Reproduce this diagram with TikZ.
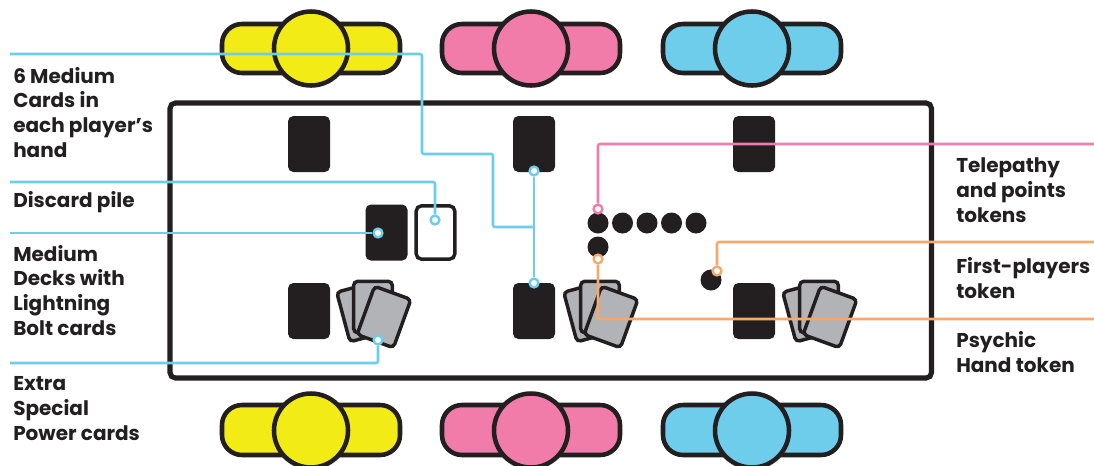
\documentclass[tikz,border=0pt]{standalone}
\usepackage{fontspec}
\setmainfont{Poppins}
\definecolor{ink}{RGB}{35,31,32}
\definecolor{pyellow}{RGB}{243,235,22}
\definecolor{ppink}{RGB}{241,124,170}
\definecolor{pblue}{RGB}{109,205,235}
\definecolor{porange}{RGB}{247,168,107}
\definecolor{cgrey}{RGB}{177,179,182}
\tikzset{
  pill/.style={draw=ink, line width=3.4pt, rounded corners=15pt},
  seat/.style={draw=ink, line width=3.4pt, circle, inner sep=0pt, minimum size=55.5pt},
  hidden/.style={fill=ink, rounded corners=4pt, inner sep=0pt, minimum width=31.5pt, minimum height=42pt},
  faceup/.style={draw=ink, fill=cgrey, line width=2.6pt, rounded corners=3pt, inner sep=0pt, minimum width=29pt, minimum height=38.5pt},
  token/.style={fill=ink, circle, inner sep=0pt, minimum size=15.75pt},
  marker/.style={draw=#1, fill=white, line width=1.8pt, circle, inner sep=0pt, minimum size=6.6pt},
  callout/.style={draw=#1, line width=1.9pt},
  label/.style={inner sep=0pt, align=left, font=\bfseries\fontsize{15}{18.5}\selectfont, text=ink}
}
\begin{document}
\begin{tikzpicture}[x=0.75pt,y=0.75pt,yscale=-1,xscale=1]
\useasboundingbox (0,0) rectangle (1094,465);

% Seats top
\draw [pill, fill=pyellow] (222,24) rectangle (400,73) ;
\node [seat, fill=pyellow] (seatA) at (311,48.5) {};
\draw [pill, fill=ppink] (442,24) rectangle (620,73) ;
\node [seat, fill=ppink] (seatB) at (531,48.5) {};
\draw [pill, fill=pblue] (663,24) rectangle (841,73) ;
\node [seat, fill=pblue] (seatC) at (752,48.5) {};
% Seats bottom
\draw [pill, fill=pyellow] (222,405) rectangle (400,455) ;
\node [seat, fill=pyellow] (seatD) at (311,430.5) {};
\draw [pill, fill=ppink] (442,405) rectangle (620,455) ;
\node [seat, fill=ppink] (seatE) at (531,430.5) {};
\draw [pill, fill=pblue] (663,405) rectangle (841,455) ;
\node [seat, fill=pblue] (seatF) at (752,430.5) {};

% Board
\draw [draw=ink, line width=3.8pt, rounded corners=4pt] (170,103) rectangle (931.5,378) ;

% Hands
\node [hidden] (handA) at (309,144) {};
\node [hidden] (handB) at (534,144) {};
\node [hidden] (handC) at (754,144) {};

% Decks and face-up cards
\node [hidden] (deckA) at (309,311) {};
\node [faceup, rotate=15] (fanA1) at (362,312) {};
\node [faceup] (fanA2) at (373,307) {};
\node [faceup, rotate=-20] (fanA3) at (384,317) {};
\node [hidden] (deckB) at (534,311) {};
\node [faceup, rotate=15] (fanB1) at (589,312) {};
\node [faceup] (fanB2) at (600,307) {};
\node [faceup, rotate=-20] (fanB3) at (611,317) {};
\node [hidden] (deckC) at (754,311) {};
\node [faceup, rotate=15] (fanC1) at (808,312) {};
\node [faceup] (fanC2) at (819,307) {};
\node [faceup, rotate=-20] (fanC3) at (830,317) {};

% Middle deck and discard pile
\node [hidden] (deckM) at (386.5,232.5) {};
\node [faceup, fill=white, rounded corners=4pt, minimum width=29pt, minimum height=40pt] (discard) at (435.5,232.5) {};

% Tokens
\node [token] (tok1) at (598,223) {};
\node [token] (tok2) at (622.5,223) {};
\node [token] (tok3) at (647,223) {};
\node [token] (tok4) at (671.5,223) {};
\node [token] (tok5) at (696,223) {};
\node [token] (psychic) at (598,247) {};
\node [token] (first) at (711,280) {};

% Markers
\node [marker=pblue] (mHandB) at (534,171) {};
\node [marker=pblue] (mDeckB) at (534,283) {};
\node [marker=pblue] (mDiscard) at (435,220) {};
\node [marker=pblue] (mDeckM) at (378,233) {};
\node [marker=pblue] (mFan) at (378,340) {};
\node [marker=ppink] (mTele) at (598,209) {};
\node [marker=porange] (mPsychic) at (598,259) {};
\node [marker=porange] (mFirst) at (717,271) {};

% Free ends
\coordinate (sHand) at (10,54) ;
\coordinate (jHand) at (534,227) ;
\coordinate (sDiscard) at (10,182) ;
\coordinate (sDeck) at (10,233) ;
\coordinate (sFan) at (10,363) ;
\coordinate (sTele) at (1094,144) ;
\coordinate (sFirst) at (1094,242) ;
\coordinate (sPsychic) at (1094,319) ;

% Connection
\draw [callout=pblue, rounded corners=1.5pt] (sHand) -| (422,154) -| (493,227) -- (jHand) ;
\draw [callout=pblue] (mHandB) -- (mDeckB) ;
\draw [callout=pblue, rounded corners=1.5pt] (sDiscard) -| (mDiscard) ;
\draw [callout=pblue] (sDeck) -- (mDeckM) ;
\draw [callout=pblue, rounded corners=1.5pt] (sFan) -| (mFan) ;
\draw [callout=ppink, rounded corners=1.5pt] (sTele) -| (mTele) ;
\draw [callout=porange, rounded corners=1.5pt] (sFirst) -| (mFirst) ;
\draw [callout=porange, rounded corners=1.5pt] (sPsychic) -| (mPsychic) ;

% Text Node
\node [label, anchor=base west] (tHand) at (13,157) {6 Medium\\Cards in\\each player’s\\hand};
% Text Node
\node [label, anchor=base west] (tDiscard) at (13,207) {Discard pile};
% Text Node
\node [label, anchor=base west] (tDeck) at (13,335) {Medium\\Decks with\\Lightning\\Bolt cards};
% Text Node
\node [label, anchor=base west] (tFan) at (13,440) {Extra\\Special\\Power cards};
% Text Node
\node [label, anchor=base west] (tTele) at (956,222) {Telepathy\\and points\\tokens};
% Text Node
\node [label, anchor=base west] (tFirst) at (956,298) {First-players\\token};
% Text Node
\node [label, anchor=base west] (tPsychic) at (956,372) {Psychic\\Hand token};

\end{tikzpicture}
\end{document}
